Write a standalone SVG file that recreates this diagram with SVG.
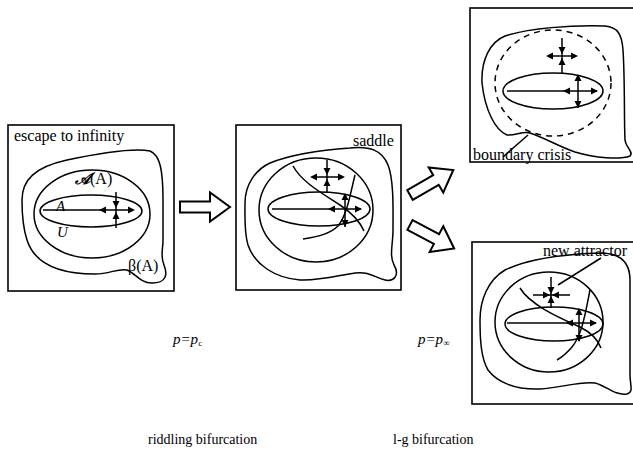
<svg xmlns="http://www.w3.org/2000/svg" xmlns:xlink="http://www.w3.org/1999/xlink" width="633" height="455" viewBox="0 0 633 455">
<style>
.box{fill:#fff;stroke:#000;stroke-width:1.6}
.ln{fill:none;stroke:#000;stroke-width:1.5}
.dash{fill:none;stroke:#000;stroke-width:1.5;stroke-dasharray:6 5}
.blk{fill:#fff;stroke:#000;stroke-width:2;stroke-linejoin:miter}
.t{font-family:"Liberation Serif",serif;font-size:16px;fill:#000}
.ti{font-family:"Liberation Serif",serif;font-size:15px;font-style:italic;fill:#000}
.tb{font-family:"Liberation Serif",serif;font-size:14px;fill:#000}
</style>
<defs>
<path id="ah" d="M0,0 L-7,-3.5 L-7,3.5 Z" fill="#000"/>
<path id="blockarrow" d="M0,-5.5 L30,-5.5 L30,-14.5 L50,0 L30,14.5 L30,5.5 L0,5.5 Z"/>
</defs>

<g id="panel-riddling-before">
<rect class="box" x="8" y="125" width="166" height="166"/>
<path class="ln" d="M22,200 C22,180 35,167 67,160 C100,153 135,148 150,151 C160,155 163,170 163,200 L163,240 C163,250 160,256 164,265 C168,275 166,283 152,283 C140,283 135,273 127,270 C118,268 110,274 95,274 C60,274 35,265 27,240 C23,228 22,212 22,200 Z"/>
<ellipse class="ln" cx="92" cy="214" rx="58" ry="44"/>
<ellipse class="ln" cx="91" cy="211" rx="51" ry="16"/>
<line class="ln" x1="43" y1="210" x2="133" y2="210"/>
<line class="ln" x1="116" y1="192" x2="116" y2="228"/>
<use xlink:href="#ah" transform="translate(99,210) rotate(180)"/>
<use xlink:href="#ah" transform="translate(135,210)"/>
<use xlink:href="#ah" transform="translate(116,208) rotate(90)"/>
<use xlink:href="#ah" transform="translate(116,212) rotate(-90)"/>
<text class="t" x="14" y="141">escape to infinity</text>
<text class="t" x="75" y="184" font-style="italic" font-weight="bold">𝒜<tspan font-style="normal" font-weight="normal">(A)</tspan></text>
<text class="ti" x="56" y="211">A</text>
<text class="ti" x="57" y="237">U</text>
<text class="t" x="128" y="271">β(A)</text>
</g>

<g id="panel-saddle">
<rect class="box" x="236" y="125" width="165" height="165"/>
<path class="ln" d="M245,203 C245,185 255,170 270,163 C290,155 320,150 350,148 C370,146 382,150 388,165 C394,180 393,210 393,230 C393,245 389,255 394,265 C400,275 394,282 385,280 C375,278 370,271 355,273 C340,275 320,281 300,280 C275,278 255,265 248,245 C244,232 245,215 245,203 Z"/>
<ellipse class="ln" cx="316" cy="210" rx="57" ry="52"/>
<ellipse class="ln" cx="319" cy="209" rx="51" ry="17"/>
<line class="ln" x1="272" y1="209" x2="361" y2="209"/>
<path class="ln" d="M293,166 C302,182 320,192 340,205 C352,213 360,222 364,231"/>
<path class="ln" d="M355,175 C350,195 347,215 338,226 C330,234 318,237 303,239"/>
<line class="ln" x1="327" y1="160" x2="327" y2="193"/>
<line class="ln" x1="312" y1="177" x2="343" y2="177"/>
<use xlink:href="#ah" transform="translate(310,177) rotate(180)"/>
<use xlink:href="#ah" transform="translate(345,177)"/>
<use xlink:href="#ah" transform="translate(327,175) rotate(90)"/>
<use xlink:href="#ah" transform="translate(327,179) rotate(-90)"/>
<line class="ln" x1="345" y1="194" x2="345" y2="227"/>
<use xlink:href="#ah" transform="translate(345,193) rotate(-90)"/>
<use xlink:href="#ah" transform="translate(345,227) rotate(90)"/>
<use xlink:href="#ah" transform="translate(328,209) rotate(180)"/>
<use xlink:href="#ah" transform="translate(362,209)"/>
<text class="t" x="353" y="146">saddle</text>
</g>

<g id="panel-boundary-crisis">
<rect class="box" x="470" y="8" width="175" height="154"/>
<path class="ln" d="M482,83 C481,60 490,42 505,36 C530,28 570,25 605,26 C618,27 622,35 623,50 C625,80 624,120 625,140 C626,148 634,152 630,156 C620,160 595,158 575,152 C560,147 545,138 530,133 C522,131 515,136 507,135 C495,130 485,110 482,83 Z"/>
<ellipse class="dash" cx="553" cy="83" rx="58" ry="53"/>
<ellipse class="ln" cx="553" cy="91" rx="50" ry="18"/>
<line class="ln" x1="507" y1="91" x2="597" y2="91"/>
<line class="ln" x1="562" y1="38" x2="562" y2="73"/>
<line class="ln" x1="548" y1="56" x2="576" y2="56"/>
<use xlink:href="#ah" transform="translate(546,56) rotate(180)"/>
<use xlink:href="#ah" transform="translate(578,56)"/>
<use xlink:href="#ah" transform="translate(562,54) rotate(90)"/>
<use xlink:href="#ah" transform="translate(562,58) rotate(-90)"/>
<line class="ln" x1="578" y1="75" x2="578" y2="108"/>
<use xlink:href="#ah" transform="translate(578,74) rotate(-90)"/>
<use xlink:href="#ah" transform="translate(578,108) rotate(90)"/>
<use xlink:href="#ah" transform="translate(563,91) rotate(180)"/>
<use xlink:href="#ah" transform="translate(598,91)"/>
<line class="ln" x1="503" y1="157" x2="528" y2="135" stroke-width="1"/>
<text class="t" x="473" y="160">boundary crisis</text>
</g>

<g id="panel-new-attractor">
<rect class="box" x="472" y="242" width="175" height="162"/>
<path class="ln" d="M480,320 C480,300 488,280 505,270 C530,258 570,254 600,253 C620,253 630,262 630,280 L630,375 C630,385 634,392 627,394 C615,396 605,385 595,383 C580,381 560,388 540,389 C515,390 497,382 488,370 C481,358 480,340 480,320 Z"/>
<ellipse class="ln" cx="549" cy="322" rx="54" ry="50"/>
<ellipse class="ln" cx="554" cy="324" rx="49" ry="17"/>
<line class="ln" x1="507" y1="323" x2="596" y2="323"/>
<path class="ln" d="M520,288 C530,305 560,318 580,327 C592,333 598,340 601,348"/>
<path class="ln" d="M590,290 C585,315 582,335 572,347 C567,353 562,357 557,360"/>
<line class="ln" x1="551" y1="277" x2="551" y2="308"/>
<line class="ln" x1="533" y1="295" x2="570" y2="295"/>
<use xlink:href="#ah" transform="translate(551,294) rotate(90)"/>
<use xlink:href="#ah" transform="translate(551,296) rotate(-90)"/>
<use xlink:href="#ah" transform="translate(550,295)"/>
<use xlink:href="#ah" transform="translate(552,295) rotate(180)"/>
<line class="ln" x1="579" y1="309" x2="579" y2="341"/>
<use xlink:href="#ah" transform="translate(579,308) rotate(-90)"/>
<use xlink:href="#ah" transform="translate(579,342) rotate(90)"/>
<use xlink:href="#ah" transform="translate(566,323) rotate(180)"/>
<use xlink:href="#ah" transform="translate(597,323)"/>
<line class="ln" x1="601" y1="258" x2="558" y2="285" stroke-width="1"/>
<text class="t" x="543" y="256">new attractor</text>
</g>

<g id="connectors">
<use class="blk" xlink:href="#blockarrow" transform="translate(180,207)"/>
<use class="blk" xlink:href="#blockarrow" transform="translate(410,195) rotate(-30)"/>
<use class="blk" xlink:href="#blockarrow" transform="translate(410,225) rotate(28)"/>
</g>

<g id="labels">
<text class="ti" x="173" y="344">p=p<tspan font-size="9" font-style="normal" dy="2">c</tspan></text>
<text class="ti" x="418" y="344">p=p<tspan font-size="9" font-style="normal" dy="2">∞</tspan></text>
<text class="tb" x="148" y="444">riddling bifurcation</text>
<text class="tb" x="393" y="444">l-g bifurcation</text>
</g>
</svg>
